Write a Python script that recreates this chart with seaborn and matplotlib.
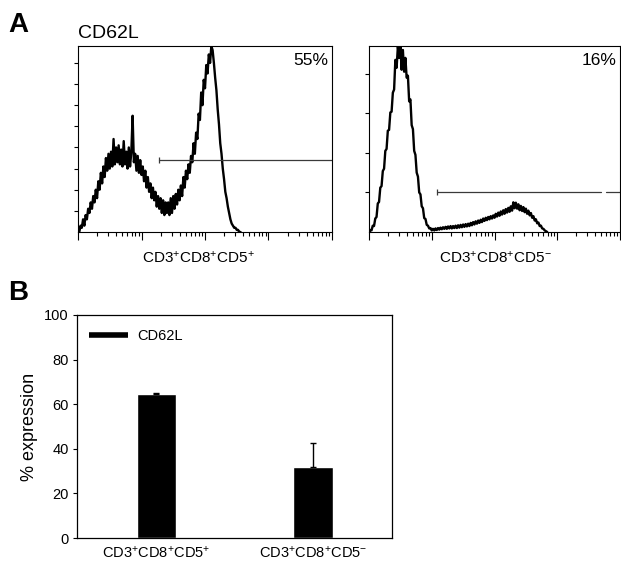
import numpy as np
import pandas as pd
import matplotlib
matplotlib.use("Agg")
import matplotlib.pyplot as plt
import seaborn as sns
from matplotlib.lines import Line2D
from matplotlib.ticker import LogLocator, NullFormatter, FixedLocator

# ---------------- Panel A data (flow histograms, log10 channel positions) ----------------
log_step = 0.02
left_log_start = 0.02
left_counts = [
    0, 3, 2, 6, 3, 8, 6, 11, 9, 14,
    11, 17, 14, 20, 16, 24, 20, 28, 23, 31,
    26, 35, 29, 37, 30, 38, 31, 44, 32, 40,
    33, 41, 32, 39, 31, 43, 32, 38, 30, 40,
    31, 38, 55, 33, 37, 29, 36, 28, 34, 27,
    31, 24, 29, 21, 26, 19, 23, 16, 21, 15,
    19, 12, 17, 11, 16, 9, 15, 8, 14, 9,
    14, 8, 16, 9, 17, 11, 18, 13, 20, 15,
    22, 17, 26, 21, 29, 25, 32, 28, 36, 33,
    42, 37, 47, 44, 56, 53, 66, 60, 72, 68,
    79, 75, 84, 80, 88, 86, 80, 73, 67, 58,
    51, 42, 37, 30, 25, 19, 16, 12, 9, 6,
    4, 3, 2, 2, 1, 1, 0, 0,
]
right_log_start = 0.00
right_counts = [
    0, 0.5, 0.4, 1.6, 1.5, 3.4, 3.8, 7.2, 7.6, 11.2,
    11.6, 15.4, 16.0, 20.5, 21.0, 25.6, 25.8, 30.2, 30.4, 35.2,
    36.0, 43.5, 41.5, 46.8, 44.0, 47.0, 41.0, 46.0, 40.5, 44.0,
    39.0, 39.5, 33.0, 33.5, 27.0, 26.0, 20.5, 19.5, 15.0, 14.0,
    10.0, 9.5, 6.5, 6.0, 3.5, 3.3, 1.8, 1.6, 0.9, 1.0,
    0.4, 0.8, 0.4, 0.9, 0.5, 1.0, 0.6, 1.1, 0.7, 1.2,
    0.8, 1.3, 0.8, 1.4, 0.9, 1.5, 0.9, 1.5, 1.0, 1.6,
    1.0, 1.7, 1.1, 1.8, 1.2, 1.9, 1.3, 2.0, 1.4, 2.1,
    1.5, 2.3, 1.7, 2.5, 1.9, 2.7, 2.1, 2.9, 2.3, 3.1,
    2.5, 3.4, 2.8, 3.6, 3.0, 3.8, 3.2, 4.0, 3.4, 4.2,
    3.6, 4.6, 3.9, 4.9, 4.1, 5.2, 4.4, 5.5, 4.6, 5.8,
    4.9, 6.1, 5.1, 6.5, 5.4, 7.5, 6.0, 7.4, 5.9, 7.0,
    5.5, 6.6, 5.3, 6.3, 5.0, 5.9, 4.6, 5.4, 4.2, 4.8,
    3.6, 4.0, 2.9, 3.2, 2.2, 2.4, 1.5, 1.6, 0.9, 0.8,
    0.4, 0.2, 0.0,
]
left_ymax = 88
right_ymax = 47
left_gate = [[18.9, 10000], 34]
right_gate = [[12, 5000], [6000, 10000], 10.1]
hist_percent = ["55%", "16%"]
hist_xlabels = [r"CD3$^{+}$CD8$^{+}$CD5$^{+}$", r"CD3$^{+}$CD8$^{+}$CD5$^{-}$"]
marker_name = "CD62L"

# ---------------- Panel B data ----------------
bar_categories = [r"CD3$^{+}$CD8$^{+}$CD5$^{+}$", r"CD3$^{+}$CD8$^{+}$CD5$^{-}$"]
bar_values = [64.6, 31.8]
bar_errors = [0.6, 10.8]
bar_yticks = [0, 20, 40, 60, 80, 100]

# ---------------- style ----------------
sns.set_style("white")
plt.rcParams["font.family"] = ["Liberation Sans", "DejaVu Sans"]
plt.rcParams["mathtext.fontset"] = "custom"
plt.rcParams["mathtext.rm"] = "Liberation Sans"
plt.rcParams["mathtext.it"] = "Liberation Sans"
plt.rcParams["mathtext.bf"] = "Liberation Sans:bold"
for key in ["text.color", "axes.labelcolor", "xtick.color", "ytick.color", "axes.edgecolor"]:
    plt.rcParams[key] = "black"

W, H = 621, 563
fig = plt.figure(figsize=(W / 100, H / 100), dpi=100)


def fax(x0, y0, x1, y1):
    return fig.add_axes([x0 / W, 1 - y1 / H, (x1 - x0) / W, (y1 - y0) / H])


ax1 = fax(78, 46, 332, 232)
ax2 = fax(369, 46, 620, 232)
axb = fax(77, 315, 392, 538)


def draw_hist(ax, start, counts, ymax, pct, xlabel, xlab_pos):
    xs = [10 ** (start + i * log_step) for i in range(len(counts))]
    sns.lineplot(x=xs, y=counts, ax=ax, color="black", lw=1.7,
                 estimator=None, sort=False)
    ax.set_xscale("log")
    ax.set_xlim(1, 10000)
    ax.set_ylim(0, ymax)
    ax.xaxis.set_major_locator(FixedLocator([1, 10, 100, 1000, 10000]))
    ax.xaxis.set_minor_locator(LogLocator(base=10, subs=np.arange(2, 10), numticks=20))
    ax.xaxis.set_major_formatter(NullFormatter())
    ax.xaxis.set_minor_formatter(NullFormatter())
    ax.set_yticks(list(range(10, ymax, 10)))
    ax.set_yticklabels([])
    ax.tick_params(axis="x", which="major", direction="out", length=5.5, width=0.8,
                   bottom=True, top=False)
    ax.tick_params(axis="x", which="minor", direction="out", length=3, width=0.8,
                   bottom=True, top=False)
    ax.tick_params(axis="y", which="major", direction="out", length=3, width=0.8,
                   left=True, right=False)
    for s in ax.spines.values():
        s.set_color("black")
        s.set_linewidth(0.8)
    ax.set_xlabel("")
    ax.set_ylabel("")
    ax.text(0.985, 0.898, pct, transform=ax.transAxes, ha="right", va="baseline",
            fontsize=12.5)
    ax.text(xlab_pos, -0.165, xlabel, transform=ax.transAxes, ha="center",
            va="baseline", fontsize=11)


draw_hist(ax1, left_log_start, left_counts, left_ymax, hist_percent[0], hist_xlabels[0], 0.474)
draw_hist(ax2, right_log_start, right_counts, right_ymax, hist_percent[1], hist_xlabels[1], 0.504)

# gates
gate_col = "#3a3a3a"
ax1.plot(left_gate[0], [left_gate[1]] * 2, color=gate_col, lw=0.9)
ax1.plot([left_gate[0][0]], [left_gate[1]], marker="|", ms=4, color=gate_col, mew=0.9)
ax2.plot(right_gate[0], [right_gate[2]] * 2, color=gate_col, lw=0.9)
ax2.plot(right_gate[1], [right_gate[2]] * 2, color=gate_col, lw=0.9)
ax2.plot([right_gate[0][0]], [right_gate[2]], marker="|", ms=4, color=gate_col, mew=0.9)

fig.text(8 / W, 1 - 32 / H, "A", fontsize=20, fontweight="bold", va="baseline")
fig.text(78 / W, 1 - 38 / H, marker_name, fontsize=14, va="baseline")
fig.text(8 / W, 1 - 300 / H, "B", fontsize=20, fontweight="bold", va="baseline")

# ---------------- Panel B ----------------
df = pd.DataFrame({"group": bar_categories, "value": bar_values})
sns.barplot(data=df, x="group", y="value", color="black", saturation=1,
            width=0.25, errorbar=None, ax=axb)
axb.errorbar(x=[0, 1], y=bar_values, yerr=[[0, 0], bar_errors], fmt="none",
             ecolor="black", elinewidth=1, capsize=2.5, capthick=1)
axb.set_xlim(-0.508, 1.505)
axb.set_ylim(0, 100)
axb.set_yticks(bar_yticks)
axb.set_yticklabels([str(v) for v in bar_yticks], fontsize=10.5)
axb.set_xticks([0, 1])
axb.set_xticklabels(bar_categories, fontsize=10.5)
axb.tick_params(axis="x", length=0, pad=5)
axb.tick_params(axis="y", direction="out", length=3, width=0.8, pad=3, left=True)
for s in axb.spines.values():
    s.set_color("black")
    s.set_linewidth(0.9)
axb.set_xlabel("")
axb.set_ylabel("% expression", fontsize=13)
axb.yaxis.set_label_coords(-0.125, 0.5)
handle = Line2D([], [], color="black", lw=4, solid_capstyle="butt")
axb.legend([handle], [marker_name], loc="center left", bbox_to_anchor=(0.038, 0.906),
           frameon=False, fontsize=10.5, handlelength=2.7, handletextpad=0.6,
           borderpad=0, borderaxespad=0)

fig.savefig("out.png", dpi=100)
